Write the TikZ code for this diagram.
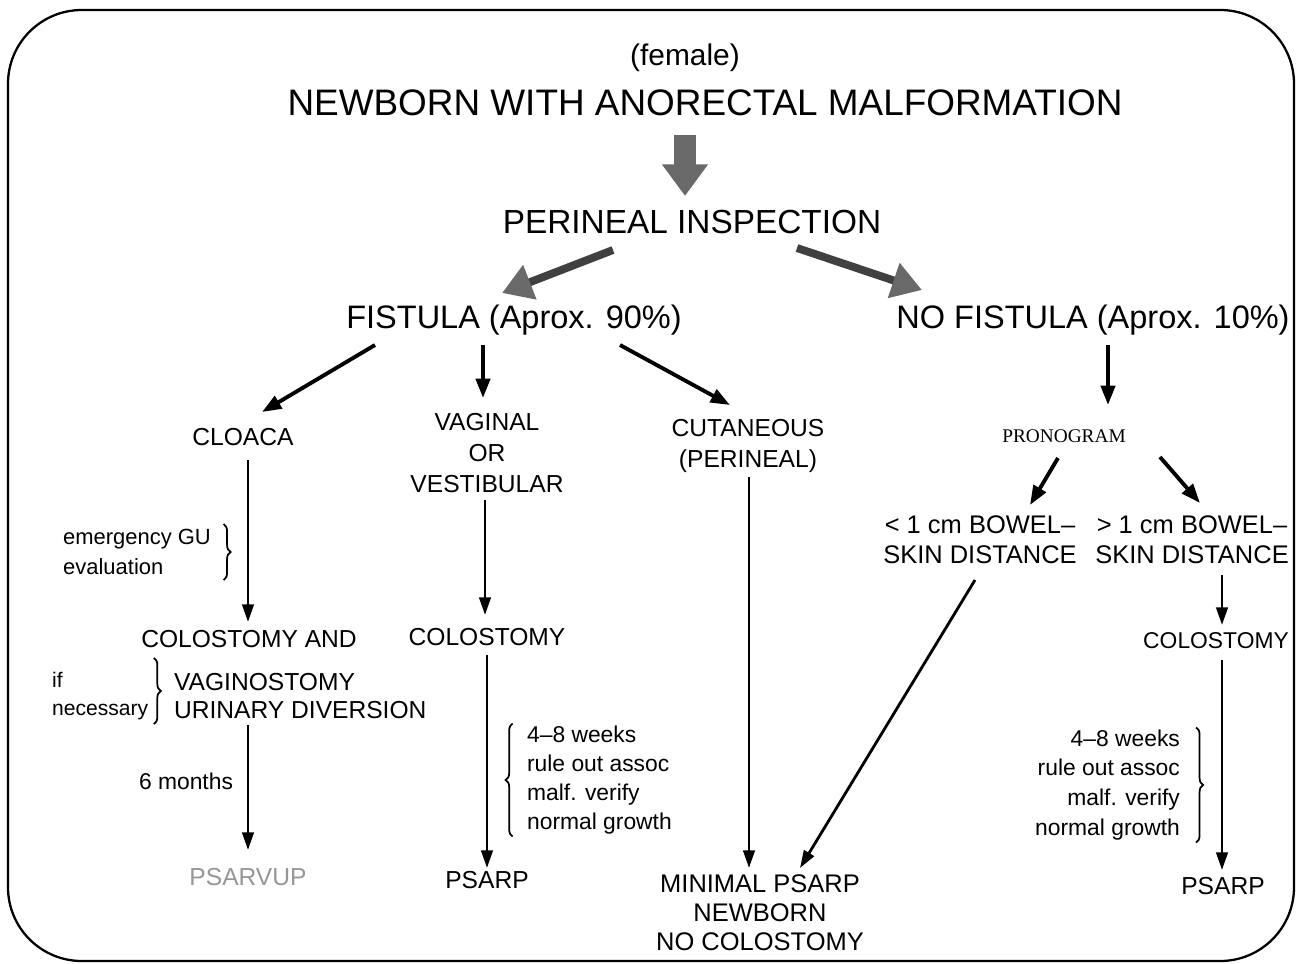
\documentclass[tikz,border=0pt]{standalone}
\usepackage{fontspec}
\setmainfont{Liberation Sans}
\newfontfamily\pronofont{Liberation Serif}
\usepackage{xcolor}
\usepackage{tikz}
\usetikzlibrary{positioning, arrows.meta, calc, decorations.pathreplacing}
\definecolor{inkgrey}{RGB}{105,105,105}
\definecolor{fadeink}{RGB}{150,150,150}

\begin{document}
\begin{tikzpicture}[x=0.02cm, y=-0.02cm,
    big/.style={font=\fontsize{21}{25}\selectfont, inner sep=1pt},
    mid/.style={font=\fontsize{14}{17.6}\selectfont, align=center, inner sep=1pt},
    note/.style={font=\fontsize{13}{16.6}\selectfont, inner sep=1pt},
    arr/.style={-{Triangle[length=10pt,width=6.5pt]}, line width=1.6pt},
    heavy/.style={-{Triangle[length=11pt,width=8pt]}, line width=2.2pt},
    fat/.style={-{Triangle[length=17pt,width=20pt,color=inkgrey]}, line width=4.5pt, draw=black!75},
    brc/.style={decorate, decoration={brace, amplitude=4pt}, line width=1pt}
]
\useasboundingbox (0,0) rectangle (1299,964);
\draw[line width=1.3pt, rounded corners=42pt] (8,10) rectangle (1294,961);

% top of the tree
\node[font=\fontsize{17}{20}\selectfont] (sex) at (685,58) {(female)};
\node[big] (newborn) at (705,103) {NEWBORN WITH ANORECTAL MALFORMATION};
\node[big, font=\fontsize{19}{23}\selectfont] (inspect) at (692,222) {PERINEAL INSPECTION};
\node[big, font=\fontsize{18.5}{22}\selectfont] (fist) at (514,320) {FISTULA (Aprox. 90\%)};
\node[big, font=\fontsize{18.5}{22}\selectfont] (nofist) at (1093,320) {NO FISTULA (Aprox. 10\%)};

% fistula branch
\node[mid] (cloaca) at (243,437) {CLOACA};
\node[mid] (vagin) at (487,453) {VAGINAL\\OR\\VESTIBULAR};
\node[mid] (cutan) at (748,446) {CUTANEOUS\\(PERINEAL)};
\node[note, align=left, anchor=east, font=\fontsize{12.5}{16.6}\selectfont] (emerg) at (213,552) {emergency GU\\evaluation};
\node[mid] (colL) at (249,639) {COLOSTOMY AND};
\node[mid, align=left, anchor=west, font=\fontsize{14}{16}\selectfont] (vagst) at (172,696) {VAGINOSTOMY\\URINARY DIVERSION};
\node[note, align=left, anchor=west, font=\fontsize{12}{16}\selectfont] (ifnec) at (50,696) {if\\necessary};
\node[note] (sixm) at (186,781) {6 months};
\node[mid, text=fadeink] (psarvup) at (248,877) {PSARVUP};
\node[mid] (colM) at (487,637) {COLOSTOMY};
\node[note, align=left, anchor=west] (weeksM) at (525,780) {4--8 weeks\\rule out assoc\\malf. verify\\normal growth};
\node[mid] (psarpM) at (487,880) {PSARP};
\node[mid, font=\fontsize{14.5}{16.6}\selectfont] (minimal) at (760,913) {MINIMAL PSARP\\NEWBORN\\NO COLOSTOMY};

% no fistula branch
\node[font=\pronofont\fontsize{11}{13}\selectfont] (prono) at (1064,436) {PRONOGRAM};
\node[mid, font=\fontsize{14.5}{17}\selectfont] (less) at (980,540) {< 1 cm BOWEL--\\SKIN DISTANCE};
\node[mid, font=\fontsize{14.5}{17}\selectfont] (more) at (1192,540) {> 1 cm BOWEL--\\SKIN DISTANCE};
\node[mid, font=\fontsize{13}{16}\selectfont] (colR) at (1216,641) {COLOSTOMY};
\node[note, align=right, anchor=east, font=\fontsize{13}{17}\selectfont] (weeksR) at (1182,785) {4--8 weeks\\rule out assoc\\malf. verify\\normal growth};
\node[mid] (psarpR) at (1223,886) {PSARP};

% braces
\draw[brc] ([xshift=6pt,yshift=2pt]emerg.north east) -- ([xshift=6pt,yshift=-2pt]emerg.south east);
\draw[brc] ($(ifnec.north east)+(2pt,-12)$) -- ($(ifnec.south east)+(2pt,2)$);
\draw[brc] ([xshift=-7pt]weeksM.south west) -- ([xshift=-7pt]weeksM.north west);
\draw[brc] ([xshift=8pt]weeksR.north east) -- ([xshift=8pt]weeksR.south east);

% grey block arrows
\draw[-{Triangle[length=18pt,width=25pt,color=inkgrey]}, line width=12pt, draw=inkgrey]
    ($(newborn)+(-20,32)$) -- ($(inspect)+(-7,-26)$);
\draw[fat] ($(inspect)+(-79,28)$) -- ($(fist)+(-12,-27)$);
\draw[fat] ($(inspect)+(105,26)$) -- ($(nofist)+(-171,-30)$);

% black arrows
\draw[heavy] ($(fist)+(-139,25)$) -- ($(cloaca)+(19,-25)$);
\draw[heavy] ($(fist)+(-31,25)$) -- ($(vagin)+(-4,-55)$);
\draw[heavy] ($(fist)+(106,25)$) -- ($(cutan)+(-18,-41)$);
\draw[heavy] ($(nofist)+(15,25)$) -- ($(prono)+(44,-31)$);
\draw[heavy] ($(prono)+(-6,22)$) -- ($(less)+(50,-35)$);
\draw[heavy] ($(prono)+(96,21)$) -- ($(more)+(8,-37)$);
\draw[arr] ($(cloaca)+(5,23)$) -- ($(colL)+(-1,-17)$);
\draw[arr] ($(colL)+(-1,86)$) -- ($(psarvup)+(0,-27)$);
\draw[arr] ($(vagin)+(-2,47)$) -- ($(colM)+(-2,-22)$);
\draw[arr] ($(colM)+(0,18)$) -- ($(psarpM)+(0,-12)$);
\draw[arr] ($(cutan)+(1,31)$) -- ($(minimal)+(-11,-45)$);
\draw[arr] ($(less)+(-5,40)$) -- ($(minimal)+(40,-45)$);
\draw[arr] ($(more)+(30,35)$) -- ($(colR)+(6,-16)$);
\draw[arr] ($(colR)+(6,19)$) -- ($(psarpR)+(-1,-16)$);

\end{tikzpicture}
\end{document}
